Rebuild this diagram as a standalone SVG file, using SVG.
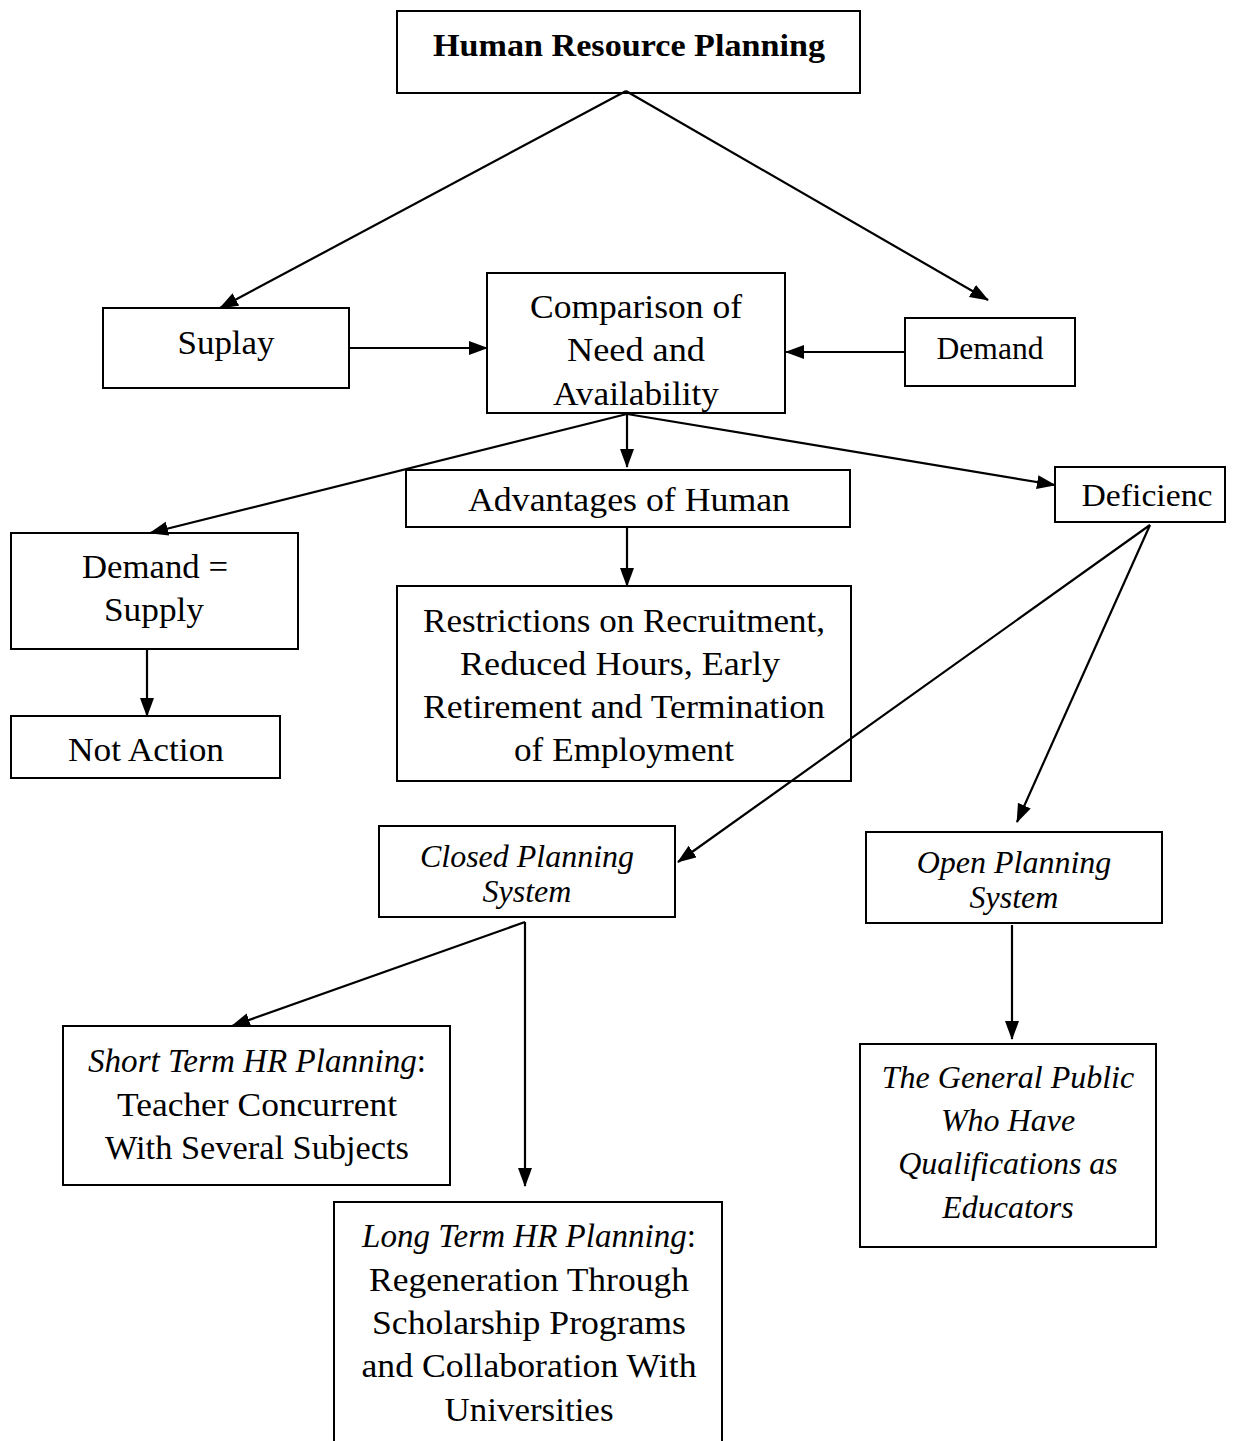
<svg xmlns="http://www.w3.org/2000/svg" width="1237" height="1441" viewBox="0 0 1237 1441">
<style>
.box{fill:#fff;stroke:#000;stroke-width:2}
.t{font-family:"Liberation Serif","Times New Roman",serif;font-size:33px;fill:#000;text-anchor:middle}
.b{font-weight:bold;font-size:32px}
.i{font-style:italic;font-size:32px}
.ln{stroke:#000;stroke-width:2.2;fill:none;marker-end:url(#ah)}
</style>
<defs>
<marker id="ah" markerWidth="20" markerHeight="16" refX="18" refY="7" orient="auto" markerUnits="userSpaceOnUse">
<path d="M0,0 L19,7 L0,14 Z" fill="#000"/>
</marker>
<clipPath id="cmpClip"><rect x="487" y="273" width="298" height="140"/></clipPath>
</defs>
<rect width="1237" height="1441" fill="#fff"/>
<g id="hrp"><rect class="box" x="397" y="11" width="463" height="82"/><text class="t b" x="629" y="56" textLength="392" lengthAdjust="spacingAndGlyphs">Human Resource Planning</text></g>
<g id="suplay"><rect class="box" x="103" y="308" width="246" height="80"/><text class="t" x="226" y="354" textLength="97" lengthAdjust="spacingAndGlyphs">Suplay</text></g>
<g id="comparison"><rect class="box" x="487" y="273" width="298" height="140"/>
<g clip-path="url(#cmpClip)"><text class="t" x="636" y="318" textLength="212" lengthAdjust="spacingAndGlyphs">Comparison of</text><text class="t" x="636" y="361" textLength="138" lengthAdjust="spacingAndGlyphs">Need and</text><text class="t" x="636" y="405" textLength="166" lengthAdjust="spacingAndGlyphs">Availability</text></g></g>
<g id="demand"><rect class="box" x="905" y="318" width="170" height="68"/><text class="t" x="990" y="359" style="font-size:31px" textLength="107" lengthAdjust="spacingAndGlyphs">Demand</text></g>
<g id="advantages"><rect class="box" x="406" y="470" width="444" height="57"/><text class="t" x="629" y="511" textLength="322" lengthAdjust="spacingAndGlyphs">Advantages of Human</text></g>
<g id="deficienc"><rect class="box" x="1055" y="467" width="170" height="55"/><text class="t" x="1147" y="506" style="font-size:31px" textLength="131" lengthAdjust="spacingAndGlyphs">Deficienc</text></g>
<g id="demandSupply"><rect class="box" x="11" y="533" width="287" height="116"/><text class="t" x="155" y="578" textLength="146" lengthAdjust="spacingAndGlyphs">Demand =</text><text class="t" x="154" y="621" textLength="100" lengthAdjust="spacingAndGlyphs">Supply</text></g>
<g id="notAction"><rect class="box" x="11" y="716" width="269" height="62"/><text class="t" x="146" y="761" textLength="156" lengthAdjust="spacingAndGlyphs">Not Action</text></g>
<g id="restrictions"><rect class="box" x="397" y="586" width="454" height="195"/>
<text class="t" x="624" y="632" textLength="402" lengthAdjust="spacingAndGlyphs">Restrictions on Recruitment,</text><text class="t" x="620" y="675" textLength="320" lengthAdjust="spacingAndGlyphs">Reduced Hours, Early</text><text class="t" x="624" y="718" textLength="402" lengthAdjust="spacingAndGlyphs">Retirement and Termination</text><text class="t" x="624" y="761" textLength="220" lengthAdjust="spacingAndGlyphs">of Employment</text></g>
<g id="closed"><rect class="box" x="379" y="826" width="296" height="91"/><text class="t i" x="527" y="867">Closed Planning</text><text class="t i" x="527" y="902">System</text></g>
<g id="open"><rect class="box" x="866" y="832" width="296" height="91"/><text class="t i" x="1014" y="873">Open Planning</text><text class="t i" x="1014" y="908">System</text></g>
<g id="shortTerm"><rect class="box" x="63" y="1026" width="387" height="159"/>
<text class="t" x="257" y="1072" textLength="338" lengthAdjust="spacingAndGlyphs"><tspan font-style="italic">Short Term HR Planning</tspan>:</text><text class="t" x="257" y="1116" textLength="280" lengthAdjust="spacingAndGlyphs">Teacher Concurrent</text><text class="t" x="257" y="1159" textLength="304" lengthAdjust="spacingAndGlyphs">With Several Subjects</text></g>
<g id="longTerm"><path d="M334,1442 V1202 H722 V1442" fill="#fff" stroke="#000" stroke-width="2"/>
<text class="t" x="529" y="1247" textLength="334" lengthAdjust="spacingAndGlyphs"><tspan font-style="italic">Long Term HR Planning</tspan>:</text><text class="t" x="529" y="1291" textLength="320" lengthAdjust="spacingAndGlyphs">Regeneration Through</text><text class="t" x="529" y="1334" textLength="314" lengthAdjust="spacingAndGlyphs">Scholarship Programs</text><text class="t" x="529" y="1377" textLength="335" lengthAdjust="spacingAndGlyphs">and Collaboration With</text><text class="t" x="529" y="1421" textLength="169" lengthAdjust="spacingAndGlyphs">Universities</text></g>
<g id="generalPublic"><rect class="box" x="860" y="1044" width="296" height="203"/>
<text class="t i" x="1008" y="1088">The General Public</text><text class="t i" x="1008" y="1131">Who Have</text><text class="t i" x="1008" y="1174">Qualifications as</text><text class="t i" x="1008" y="1218">Educators</text></g>
<g id="connectors">
<line class="ln" x1="626" y1="91" x2="220" y2="308"/>
<line class="ln" x1="626" y1="91" x2="988" y2="300"/>
<line class="ln" x1="349" y1="348" x2="487" y2="348"/>
<line class="ln" x1="905" y1="352" x2="786" y2="352"/>
<line class="ln" x1="627" y1="414" x2="627" y2="467"/>
<line class="ln" x1="627" y1="414" x2="150" y2="533"/>
<line class="ln" x1="627" y1="414" x2="1055" y2="485"/>
<line class="ln" x1="627" y1="527" x2="627" y2="586"/>
<line class="ln" x1="147" y1="649" x2="147" y2="716"/>
<line class="ln" x1="1150" y1="525" x2="678" y2="862"/>
<line class="ln" x1="1150" y1="525" x2="1017" y2="822"/>
<line class="ln" x1="525" y1="922" x2="232" y2="1026"/>
<line class="ln" x1="525" y1="922" x2="525" y2="1186"/>
<line class="ln" x1="1012" y1="925" x2="1012" y2="1039"/>
</g>
</svg>
